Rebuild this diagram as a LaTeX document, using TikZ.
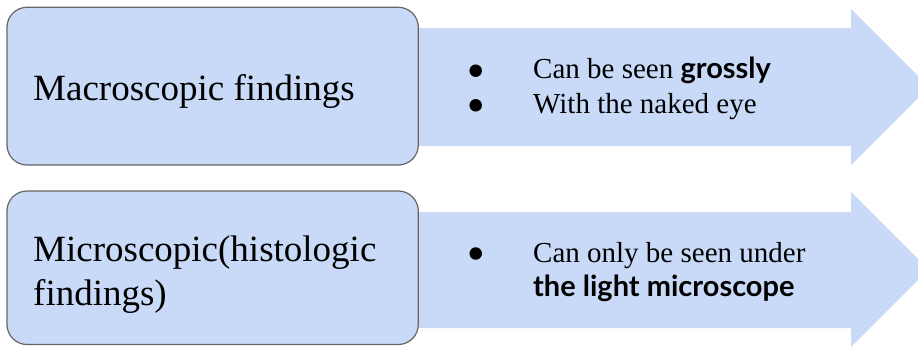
\documentclass[tikz,border=0pt]{standalone}
\usepackage{fontspec}
\setmainfont{Liberation Serif}
\newfontfamily\bsans{Lato}
\definecolor{lightblue}{HTML}{C9DAF8}
\definecolor{edgegray}{HTML}{666666}
\tikzset{
  arrowfill/.style={fill=lightblue},
  roundbox/.style={fill=lightblue, draw=edgegray, line width=1.2pt, rounded corners=20pt},
  bigtext/.style={anchor=base west, inner sep=0pt, font=\fontsize{37}{44}\selectfont},
  smalltext/.style={anchor=base west, inner sep=0pt, font=\fontsize{29}{35}\selectfont},
  bulletdot/.style={circle, fill=black, inner sep=0pt, minimum size=12.5pt}
}
\begin{document}
\begin{tikzpicture}[x=1pt, y=-1pt]
\useasboundingbox (0,0) rectangle (918,348);
\fill[white] (0,0) rectangle (918,348);
\clip (0,0) rectangle (918,348);
% arrows
\fill[arrowfill] (300,28) -- (851,28) -- (851,9) -- (929,87) -- (851,165) -- (851,146) -- (300,146) -- cycle;
\fill[arrowfill] (300,212) -- (851,212) -- (851,192) -- (928.5,269.5) -- (851,347) -- (851,328) -- (300,328) -- cycle;
% boxes
\draw[roundbox] (7,7.3) rectangle (418.3,165);
\draw[roundbox] (7,191) rectangle (418.3,344.5);
% left texts
\node[bigtext] (macro) at (33,100.7) {Macroscopic findings};
\node[bigtext] (micro1) at (33,261.7) {Microscopic(histologic};
\node[bigtext] (micro2) at (33,305) {findings)};
% bullets
\node[bulletdot] (d1) at (475.7,70.7) {};
\node[bulletdot] (d2) at (475.7,105.3) {};
\node[bulletdot] (d3) at (475.7,253.5) {};
\node[smalltext] (t1) at (533,78.3) {Can be seen {\bsans\bfseries grossly}};
\node[smalltext] (t2) at (533,113.3) {With the naked eye};
\node[smalltext] (t3) at (533,262.3) {Can only be seen under};
\node[smalltext] (t4) at (533,296.7) {\bsans\bfseries the light microscope};
\end{tikzpicture}
\end{document}
